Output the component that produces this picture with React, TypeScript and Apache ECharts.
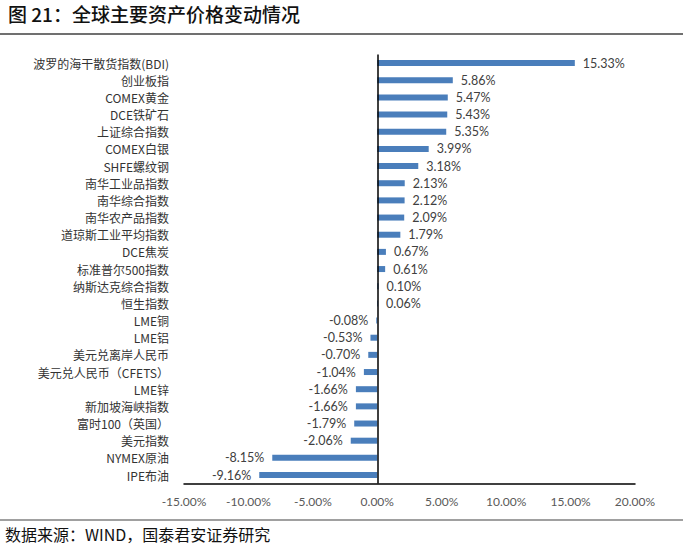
import React, { useEffect, useRef } from "react";
import * as echarts from "echarts";

const categories = [
  "波罗的海干散货指数(BDI)",
  "创业板指",
  "COMEX黄金",
  "DCE铁矿石",
  "上证综合指数",
  "COMEX白银",
  "SHFE螺纹钢",
  "南华工业品指数",
  "南华综合指数",
  "南华农产品指数",
  "道琼斯工业平均指数",
  "DCE焦炭",
  "标准普尔500指数",
  "纳斯达克综合指数",
  "恒生指数",
  "LME铜",
  "LME铝",
  "美元兑离岸人民币",
  "美元兑人民币（CFETS）",
  "LME锌",
  "新加坡海峡指数",
  "富时100（英国）",
  "美元指数",
  "NYMEX原油",
  "IPE布油",
];

const values = [
  15.33, 5.86, 5.47, 5.43, 5.35, 3.99, 3.18, 2.13, 2.12, 2.09, 1.79, 0.67, 0.61,
  0.1, 0.06, -0.08, -0.53, -0.7, -1.04, -1.66, -1.66, -1.79, -2.06, -8.15, -9.16,
];

const titleText = "图 21：全球主要资产价格变动情况";
const sourceText = "数据来源：WIND，国泰君安证券研究";

const LATIN = "Lato, 'Noto Sans CJK SC', sans-serif";
const CJK = "'Noto Sans CJK SC', sans-serif";

export default function App() {
  const ref = useRef<HTMLDivElement>(null);
  useEffect(() => {
    if (!ref.current) return;
    const chart = echarts.init(ref.current, undefined, { renderer: "svg" });
    chart.setOption({
      animation: false,
      backgroundColor: "#ffffff",
      grid: { left: 184, right: 65, top: 54.5, bottom: 68.4, containLabel: false },
      xAxis: {
        type: "value",
        min: -15,
        max: 20,
        interval: 5,
        axisLine: { show: true, onZero: false, lineStyle: { color: "#000000", width: 1.5 } },
        axisTick: { show: false },
        splitLine: { show: false },
        axisLabel: {
          color: "#595959",
          fontSize: 12,
          fontFamily: LATIN,
          margin: 12,
          formatter: (v: number) => v.toFixed(2) + "%",
        },
      },
      yAxis: {
        type: "category",
        inverse: true,
        data: categories,
        axisLine: { show: false, onZero: false },
        axisTick: { show: false },
        splitLine: { show: false },
        axisLabel: {
          color: "#333333",
          fontSize: 12,
          lineHeight: 14,
          fontFamily: CJK,
          margin: 15,
          interval: 0,
        },
      },
      series: [
        {
          type: "bar",
          barWidth: 6,
          itemStyle: { color: "#4a7ebb" },
          data: values.map((v) => ({
            value: v,
            label: {
              show: true,
              position: v >= 0 ? "right" : "left",
              distance: 8,
              color: "#404040",
              fontSize: 12.5,
              lineHeight: 14,
              fontFamily: LATIN,
              formatter: () => v.toFixed(2) + "%",
            },
          })),
          markLine: {
            silent: true,
            symbol: ["none", "none"],
            label: { show: false },
            lineStyle: { color: "#000000", width: 1.5, type: "solid" },
            data: [{ xAxis: 0 }],
          },
        },
      ],
      graphic: [
        {
          type: "text",
          left: 8,
          top: 4,
          style: { text: titleText, fill: "#111111", fontSize: 19, fontFamily: CJK, fontWeight: 500 },
        },
        {
          type: "line",
          shape: { x1: 0, y1: 34, x2: 683, y2: 34 },
          style: { stroke: "#404040", lineWidth: 1.5 },
        },
        {
          type: "line",
          shape: { x1: 0, y1: 520, x2: 683, y2: 520 },
          style: { stroke: "#808080", lineWidth: 1.5 },
        },
        {
          type: "text",
          left: 5,
          top: 526,
          style: { text: sourceText, fill: "#111111", fontSize: 16, fontFamily: CJK },
        },
      ],
    });
    return () => chart.dispose();
  }, []);
  return (
    <div
      ref={ref}
      style={{ position: "absolute", left: 0, top: 0, width: 700, height: 552 }}
    />
  );
}
